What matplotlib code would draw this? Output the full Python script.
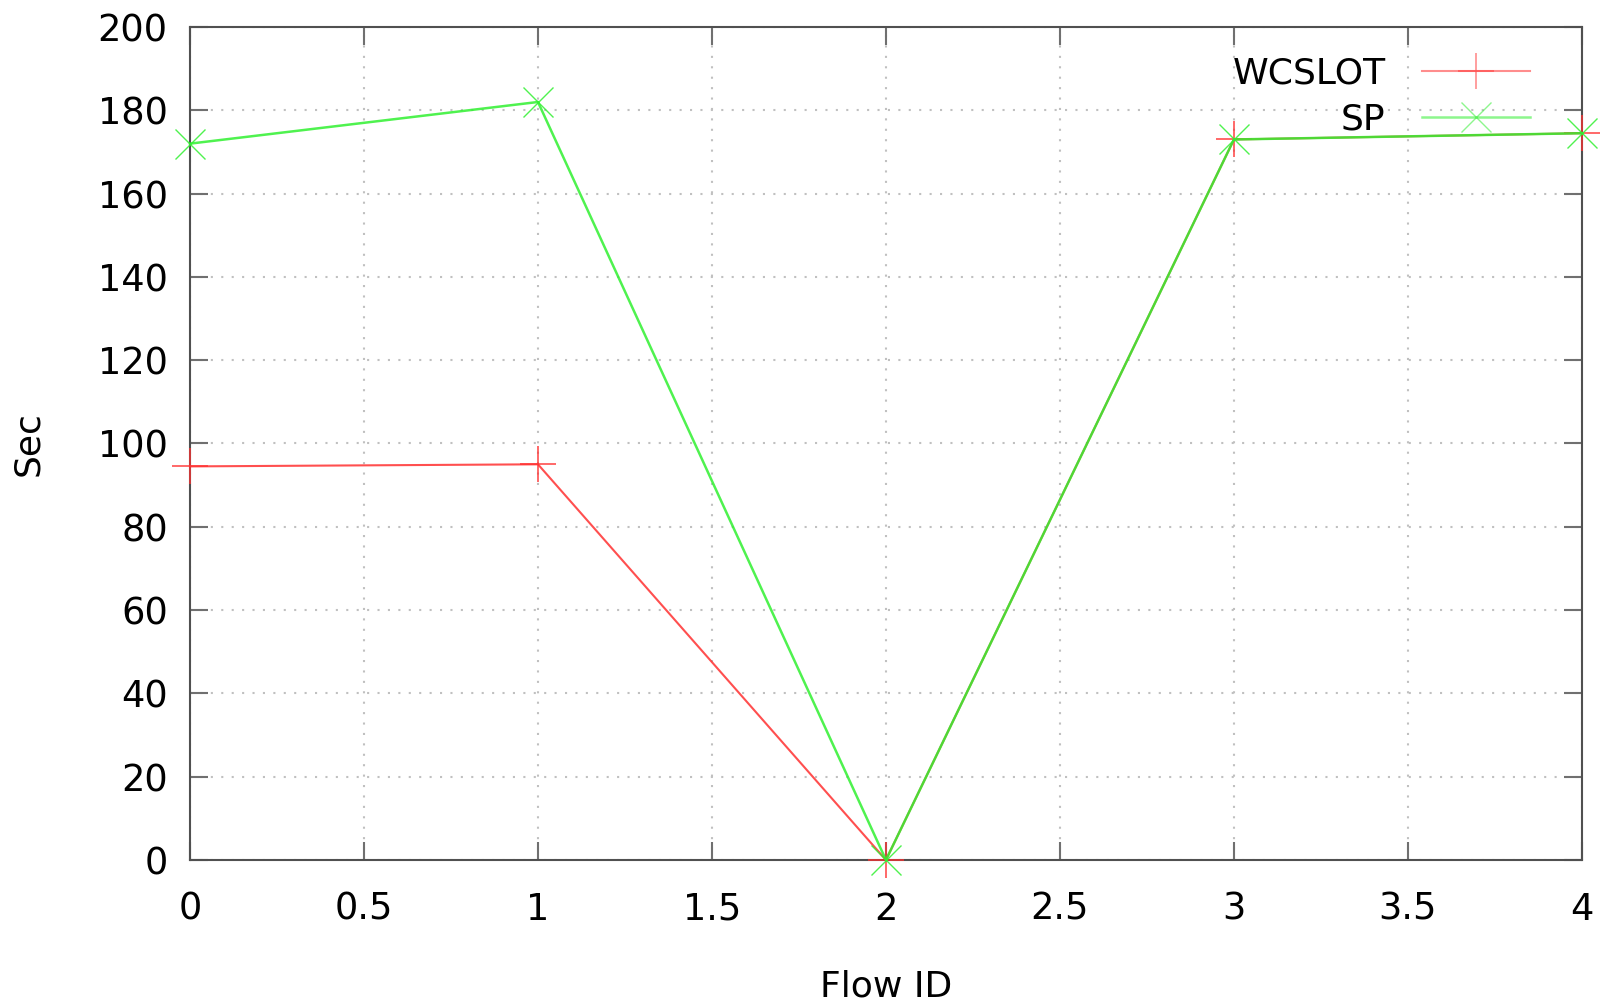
import matplotlib.pyplot as plt

flow_id = [0, 1, 2, 3, 4]
wcslot = [94.5, 95, 0, 173, 174.5]
sp = [172, 182, 0, 173, 174.5]

xticks = [0, 0.5, 1, 1.5, 2, 2.5, 3, 3.5, 4]
xticklabels = ['0', '0.5', '1', '1.5', '2', '2.5', '3', '3.5', '4']
yticks = [0, 20, 40, 60, 80, 100, 120, 140, 160, 180, 200]

fig = plt.figure(figsize=(16.06, 10.01), dpi=100)
ax = fig.add_axes([0.1183, 0.1409, 0.8667, 0.8321])

ax.plot(flow_id, wcslot, color='#ff3030', lw=1.5, marker='+', ms=26, mew=1.2,
        label='WCSLOT', alpha=0.85, clip_on=False, zorder=3)
ax.plot(flow_id, sp, color='#30f030', lw=1.8, marker='x', ms=22, mew=1.0,
        label='SP', alpha=0.85, clip_on=False, zorder=3)

ax.set_xlim(0, 4)
ax.set_ylim(0, 200)
ax.set_xticks(xticks)
ax.set_xticklabels(xticklabels)
ax.set_yticks(yticks)

ax.grid(True, linestyle=(0, (1, 4)), color='#c0c0c0', lw=1.5)
ax.tick_params(direction='in', length=13, width=1.5, color='#707070',
               labelsize=26.5, top=True, right=True)
ax.tick_params(axis='x', pad=22)
ax.tick_params(axis='y', pad=16)
for s in ax.spines.values():
    s.set_color('#505050')
    s.set_linewidth(1.5)

ax.set_xlabel('Flow ID', fontsize=26, labelpad=30)
ax.set_ylabel('Sec', fontsize=26, labelpad=38)

leg = ax.legend(loc='upper right', bbox_to_anchor=(0.986, 1.004), frameon=False,
                markerfirst=False, fontsize=26, handlelength=3.0, handletextpad=1.0,
                labelspacing=0.35)
for h in leg.legend_handles:
    h.set_alpha(0.55)

plt.savefig('out.png')
